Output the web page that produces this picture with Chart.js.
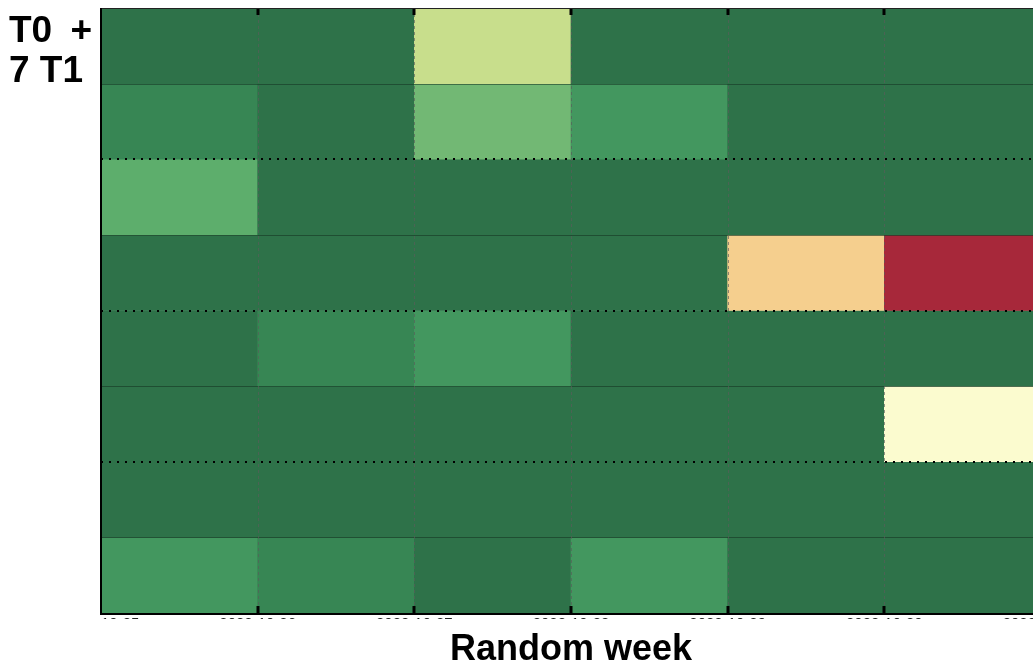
<!DOCTYPE html>
<html><head><meta charset="utf-8">
<script src="https://cdn.jsdelivr.net/npm/chart.js@4.4.0/dist/chart.umd.min.js"></script>
<style>
html,body{margin:0;padding:0;background:#fff;overflow:hidden;width:1033px;height:666px;}
#wrap{position:absolute;left:0;top:0;width:1086px;height:672px;}
#ylab{position:absolute;left:9px;top:10px;font:bold 37px "Liberation Sans",Arial,sans-serif;line-height:40px;color:#000;white-space:nowrap;}
</style></head><body>
<div id="wrap"><canvas id="c"></canvas></div>
<div id="ylab">T0 <span style="margin-left:8px">+</span><br>7 T1</div>
<script>
// categories (columns = weeks) and tick labels at column boundaries
const weeks = ['W1', 'W2', 'W3', 'W4', 'W5', 'W6'];
const tickLabels = ['2022-10-25', '2022-10-26', '2022-10-27', '2022-10-28', '2022-10-29', '2022-10-30', '2022-10-31'];
const rowNames = ['R1', 'R2', 'R3', 'R4', 'R5', 'R6', 'R7', 'R8'];

// cell values, rows top to bottom
const row1 = [0, 0, 5, 0, 0, 0];
const row2 = [1, 0, 4, 2, 0, 0];
const row3 = [3, 0, 0, 0, 0, 0];
const row4 = [0, 0, 0, 0, 7, 10];
const row5 = [0, 1, 2, 0, 0, 0];
const row6 = [0, 0, 0, 0, 0, 6];
const row7 = [0, 0, 0, 0, 0, 0];
const row8 = [2, 1, 0, 2, 0, 0];
const rows = [row1, row2, row3, row4, row5, row6, row7, row8];

// colour scale stops
const stopValues = [0, 1, 2, 3, 4, 5, 6, 7, 10];
const stopColors = ['#2e7249', '#378654', '#43975f', '#5dae6c', '#72b874', '#c8de8c', '#fbfbcf', '#f5cf8e', '#a7283a'];

function hexToRgb(h){ return [parseInt(h.slice(1,3),16), parseInt(h.slice(3,5),16), parseInt(h.slice(5,7),16)]; }
function colorFor(v){
  for (let i = 0; i < stopValues.length - 1; i++) {
    if (v <= stopValues[i+1]) {
      const t = (v - stopValues[i]) / (stopValues[i+1] - stopValues[i]);
      const a = hexToRgb(stopColors[i]), b = hexToRgb(stopColors[i+1]);
      const c = a.map((x, k) => Math.round(x + (b[k] - x) * t));
      return `rgb(${c[0]},${c[1]},${c[2]})`;
    }
  }
  return stopColors[stopColors.length - 1];
}

const FONT = '"Liberation Sans", Arial, sans-serif';

const overlay = {
  id: 'overlay',
  afterDatasetsDraw(chart) {
    const {ctx, chartArea: ca} = chart;
    const xs = chart.scales.x2, ys = chart.scales.y;
    ctx.save();
    ctx.beginPath(); ctx.rect(ca.left, ca.top, ca.right - ca.left, ca.bottom - ca.top); ctx.clip();
    // horizontal solid lines at odd boundaries
    ctx.strokeStyle = 'rgba(20,50,32,0.55)'; ctx.lineWidth = 1; ctx.setLineDash([]);
    [1, 3, 5, 7].forEach(v => { const y = Math.round(ys.getPixelForValue(v)) + 0.5; ctx.beginPath(); ctx.moveTo(ca.left, y); ctx.lineTo(ca.right, y); ctx.stroke(); });
    // vertical dashed grid lines
    ctx.strokeStyle = 'rgba(90,90,90,0.65)'; ctx.lineWidth = 1; ctx.setLineDash([3, 3]);
    [1, 2, 3, 4, 5].forEach(v => { const x = Math.round(xs.getPixelForValue(v)) + 0.5; ctx.beginPath(); ctx.moveTo(x, ca.top); ctx.lineTo(x, ca.bottom); ctx.stroke(); });
    // dotted black lines at even boundaries
    ctx.strokeStyle = '#000'; ctx.lineWidth = 2; ctx.setLineDash([2, 6]);
    [2, 4, 6].forEach(v => { const y = Math.round(ys.getPixelForValue(v)); ctx.beginPath(); ctx.moveTo(ca.left, y); ctx.lineTo(ca.right, y); ctx.stroke(); });
    ctx.restore();
    ctx.save();
    // tick marks
    ctx.fillStyle = '#000';
    [1, 2, 3, 4, 5, 6].forEach(v => { const x = Math.round(xs.getPixelForValue(v)); ctx.fillRect(x - 1.5, ca.top, 3, 7); ctx.fillRect(x - 1.5, ca.bottom - 7, 3, 7); });
    // frame
    ctx.strokeStyle = '#222'; ctx.lineWidth = 1;
    ctx.beginPath(); ctx.moveTo(ca.left, ca.top + 0.5); ctx.lineTo(ca.right, ca.top + 0.5); ctx.stroke();
    ctx.strokeStyle = '#000'; ctx.lineWidth = 2;
    ctx.beginPath(); ctx.moveTo(ca.left, ca.top); ctx.lineTo(ca.left, ca.bottom + 1); ctx.lineTo(ca.right, ca.bottom + 1); ctx.stroke();
    ctx.restore();
  },
  afterDraw(chart) {
    const {ctx, chartArea: ca} = chart;
    ctx.save();
    ctx.fillStyle = '#fff';
    ctx.fillRect(0, ca.bottom + 6, chart.width, 14);
    ctx.fillRect(0, ca.bottom + 2, ca.left - 1, 20);
    ctx.restore();
  }
};

new Chart(document.getElementById('c'), {
  type: 'bar',
  data: {
    labels: weeks,
    datasets: rows.map((r, i) => ({
      label: rowNames[i],
      data: r.map(() => 1),
      backgroundColor: r.map(colorFor),
      borderWidth: 0,
      barPercentage: 1,
      categoryPercentage: 1,
      xAxisID: 'x',
      yAxisID: 'y'
    }))
  },
  options: {
    responsive: true,
    maintainAspectRatio: false,
    animation: false,
    layout: { padding: { left: 101, top: 8, right: 45, bottom: 0 } },
    plugins: { legend: { display: false }, tooltip: { enabled: false } },
    scales: {
      x: { type: 'category', display: false, stacked: true, offset: true },
      x2: {
        type: 'linear', position: 'bottom', min: 0, max: 6, offset: false,
        grid: { display: false, drawTicks: false, offset: false },
        border: { display: false },
        ticks: { stepSize: 1, autoSkip: false, maxRotation: 0, padding: 2, color: '#222',
          font: { size: 15, family: FONT }, callback: v => tickLabels[v] },
        title: { display: true, text: 'Random week', color: '#000',
          font: { size: 36, weight: 'bold', family: FONT }, padding: { top: 0, bottom: 0 } },
        afterFit: s => { s.height = 59; }
      },
      y: { type: 'linear', min: 0, max: 8, reverse: true, stacked: true, display: false }
    }
  },
  plugins: [overlay]
});
</script>
</body></html>
